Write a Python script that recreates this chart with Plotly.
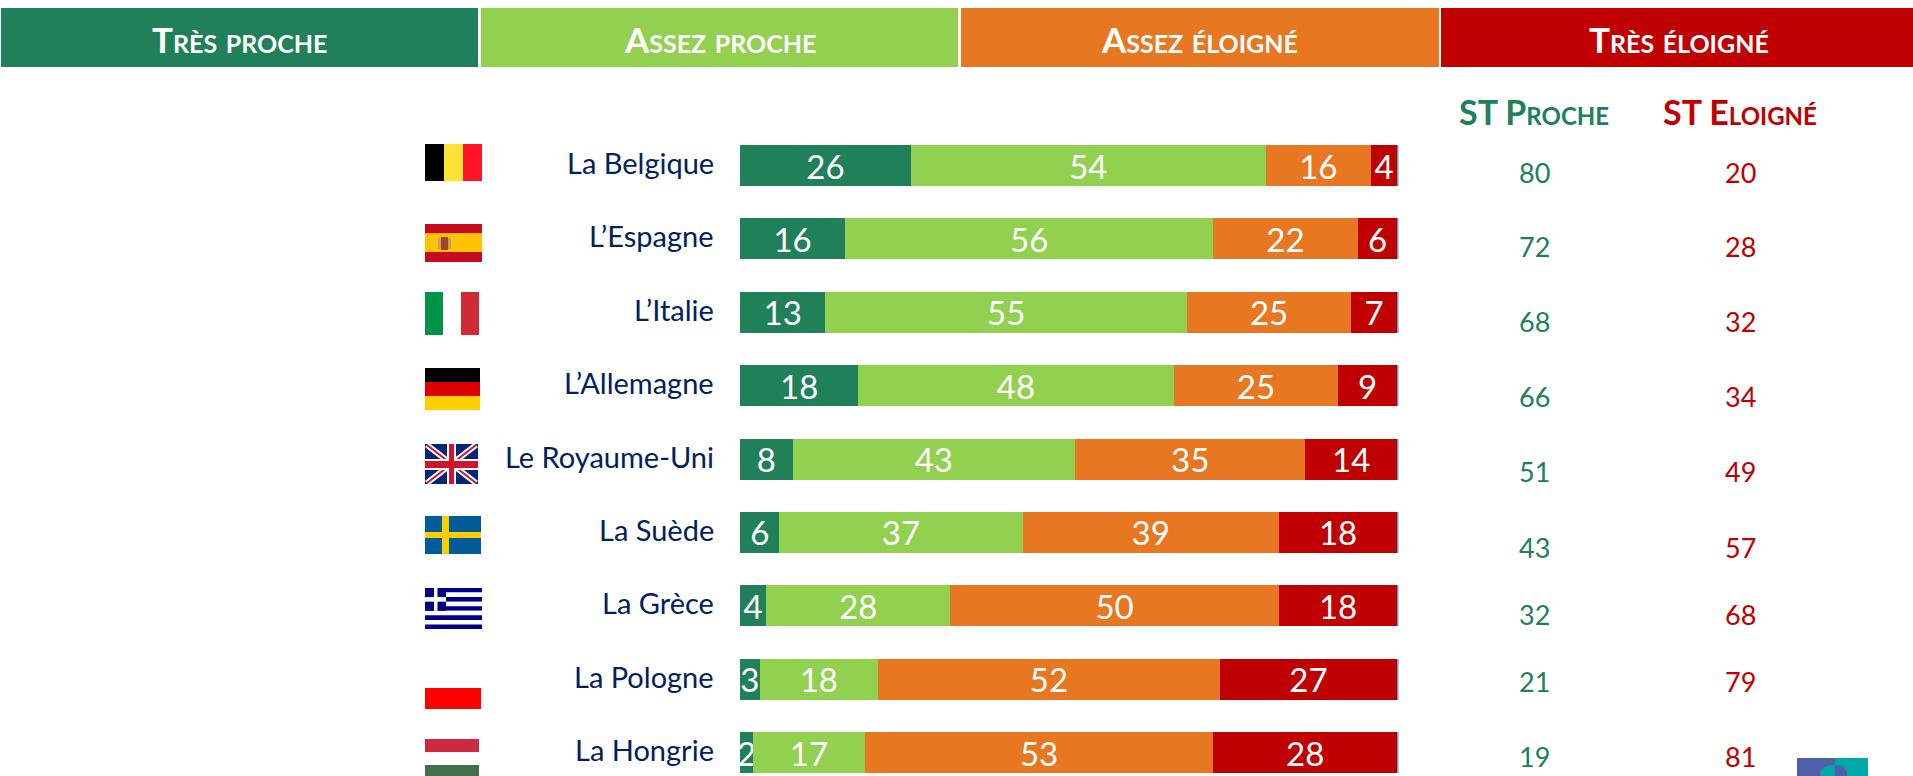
import plotly.graph_objects as go

W, H = 1913, 776
FONT = "Lato"

countries = ["La Belgique", "L’Espagne", "L’Italie", "L’Allemagne", "Le Royaume-Uni",
             "La Suède", "La Grèce", "La Pologne", "La Hongrie"]
tres_proche = [26, 16, 13, 18, 8, 6, 4, 3, 2]
assez_proche = [54, 56, 55, 48, 43, 37, 28, 18, 17]
assez_eloigne = [16, 22, 25, 25, 35, 39, 50, 52, 53]
tres_eloigne = [4, 6, 7, 9, 14, 18, 18, 27, 28]
st_proche = [80, 72, 68, 66, 51, 43, 32, 21, 19]
st_eloigne = [20, 28, 32, 34, 49, 57, 68, 79, 81]
residual = [0.2] * 9  # thin sliver closing every bar

series_names = ["Très proche", "Assez proche", "Assez éloigné", "Très éloigné"]
GREEN, LIME, ORANGE, RED = "#20805A", "#92D050", "#E87722", "#C00000"
NAVY = "#002060"
series_colors = [GREEN, LIME, ORANGE, RED]
series_values = [tres_proche, assez_proche, assez_eloigne, tres_eloigne]

ST_Y_PX = [172, 246, 321, 397, 472, 547, 614, 681, 756]
HEAD_BOX = [(1, 478), (481, 958), (961, 1439), (1441, 1913)]
HEAD_CX = [239, 719.5, 1199, 1679]
ST_X = [1534, 1740]


def px(x):
    return x / W


def py(y):
    return 1 - y / H


shapes = []


def rect(x0, y0, x1, y1, color):
    shapes.append(dict(type="rect", xref="paper", yref="paper", x0=px(x0), x1=px(x1),
                       y0=py(y0), y1=py(y1), fillcolor=color, line_width=0, layer="below"))


def seg(x0, y0, x1, y1, color, width):
    shapes.append(dict(type="line", xref="paper", yref="paper", x0=px(x0), x1=px(x1),
                       y0=py(y0), y1=py(y1), line=dict(color=color, width=width), layer="below"))


def halfdome(xc, xe, ytop, ybot, color):
    path = (f"M {px(xc)},{py(ytop)} Q {px(xe)},{py(ytop)} {px(xe)},{py(ybot)} "
            f"L {px(xc)},{py(ybot)} Z")
    shapes.append(dict(type="path", xref="paper", yref="paper", path=path,
                       fillcolor=color, line_width=0, layer="below"))


def vbands(x0, x1, y0, y1, splits, colors):
    edges = [x0] + splits + [x1]
    for i, c in enumerate(colors):
        rect(edges[i], y0, edges[i + 1], y1, c)


def hbands(x0, x1, y0, y1, splits, colors):
    edges = [y0] + splits + [y1]
    for i, c in enumerate(colors):
        rect(x0, edges[i], x1, edges[i + 1], c)


# Header bands
for box, c in zip(HEAD_BOX, series_colors):
    rect(box[0], 8, box[1], 67, c)

# Flags
vbands(425, 482, 144, 181, [444, 463], ["#000000", "#FFE332", "#FF1428"])
hbands(425, 482, 224, 262, [233.5, 252], ["#C60B1E", "#FFC400", "#C60B1E"])
rect(438, 238, 451, 249, "#C8A060")
rect(441, 237, 448, 250, "#A8402A")
vbands(425, 479, 292, 335, [443, 461], ["#009246", "#FFFFFF", "#CE2B37"])
hbands(425, 480, 368, 410, [382, 396], ["#000000", "#DD0000", "#FFCE00"])
rect(425, 444, 478, 484, "#00247D")
seg(427, 445, 476, 483, "#FFFFFF", 6)
seg(427, 483, 476, 445, "#FFFFFF", 6)
seg(427, 445, 476, 483, "#CF142B", 2)
seg(427, 483, 476, 445, "#CF142B", 2)
rect(447, 444, 456, 484, "#FFFFFF")
rect(425, 459, 478, 470, "#FFFFFF")
rect(449, 444, 454, 484, "#CF142B")
rect(425, 461, 478, 468, "#CF142B")
rect(425, 516, 481, 554, "#005B99")
rect(442, 516, 449, 554, "#FECC00")
rect(425, 532, 481, 538, "#FECC00")
stripe = (629 - 588) / 9
for k in range(9):
    rect(425, 588 + k * stripe, 482, 588 + (k + 1) * stripe, "#00008B" if k % 2 == 0 else "#FFFFFF")
rect(425, 588, 446, 588 + 5 * stripe, "#00008B")
rect(434, 588, 437.5, 588 + 5 * stripe, "#FFFFFF")
rect(425, 588 + 2 * stripe, 446, 588 + 3 * stripe, "#FFFFFF")
rect(425, 688, 481, 709, "#FF0000")
rect(425, 739, 479, 752, "#CD2A3E")
rect(425, 765, 479, 776, "#436F4D")

# Cropped logo, bottom right
rect(1797, 758, 1835, 776, "#4F5FA8")
rect(1835, 758, 1868, 776, "#00A8A8")
halfdome(1835, 1820, 765, 776, "#00A8A8")
halfdome(1835, 1847, 765, 776, "#4F5FA8")

fig = go.Figure()
for name, vals, col in zip(series_names, series_values, series_colors):
    fig.add_trace(go.Bar(
        y=countries, x=vals, name=name, orientation="h", width=0.559,
        marker=dict(color=col, line_width=0),
        text=vals, textposition="inside", insidetextanchor="middle", textangle=0,
        constraintext="none",
        textfont=dict(family=FONT, size=33, color="#FFFFFF"),
    ))
fig.add_trace(go.Bar(y=countries, x=residual, orientation="h", width=0.559, name="",
                     marker=dict(color="#5BA3C7", line_width=0), hoverinfo="skip"))

annotations = []
for name, cx in zip(series_names, HEAD_CX):
    annotations.append(dict(text=name, xref="paper", yref="paper", x=px(cx), y=py(39),
                            xanchor="center", yanchor="middle", showarrow=False,
                            font=dict(family=FONT, size=35, color="#FFFFFF", weight="bold",
                                      variant="small-caps")))
for label, cx, col in zip(["ST Proche", "ST Eloigné"], ST_X, [GREEN, RED]):
    annotations.append(dict(text=label, xref="paper", yref="paper", x=px(cx), y=py(112),
                            xanchor="center", yanchor="middle", showarrow=False,
                            font=dict(family=FONT, size=34, color=col, weight="bold",
                                      variant="small-caps")))
for c in countries:
    annotations.append(dict(text=c, xref="x", yref="y", x=0, y=c, xanchor="right",
                            yanchor="middle", xshift=-24, yshift=3, showarrow=False,
                            font=dict(family=FONT, size=29, color=NAVY)))
for values, cx, col in zip([st_proche, st_eloigne], ST_X, [GREEN, RED]):
    for v, yp in zip(values, ST_Y_PX):
        annotations.append(dict(text=str(v), xref="paper", yref="paper", x=px(cx), y=py(yp),
                                xanchor="center", yanchor="middle", showarrow=False,
                                font=dict(family=FONT, size=27, color=col)))

fig.update_layout(
    width=W, height=H, margin=dict(l=0, r=0, t=0, b=0),
    paper_bgcolor="#FFFFFF", plot_bgcolor="rgba(0,0,0,0)",
    barmode="stack", showlegend=False, font=dict(family=FONT),
    xaxis=dict(domain=[740 / W, 1398.5 / W], range=[0, 100.2], visible=False),
    yaxis=dict(domain=[0, 1], type="category", categoryorder="array", categoryarray=countries,
               range=[8.318, -2.255], visible=False),
    shapes=shapes, annotations=annotations,
)

fig.write_html("out.html", config=dict(displayModeBar=False), post_script=(
    "document.body.style.margin='0';document.body.style.overflow='hidden';"))
